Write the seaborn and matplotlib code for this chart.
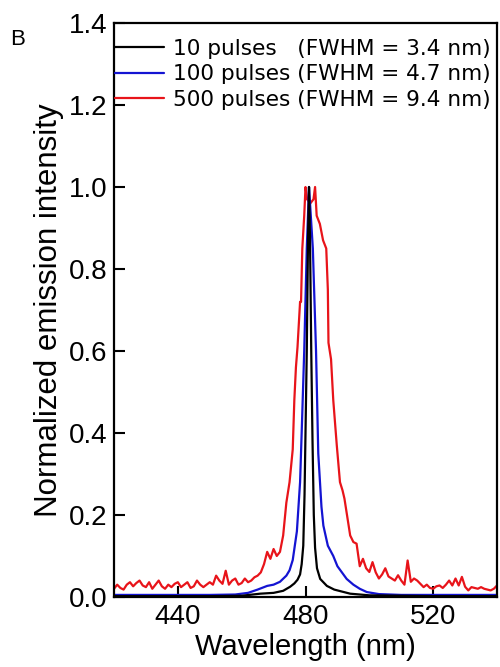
import matplotlib
matplotlib.use("Agg")
import matplotlib.pyplot as plt
import seaborn as sns
import pandas as pd

sns.set_theme(style="white")
plt.rcParams['font.family'] = ['Liberation Sans', 'DejaVu Sans']
for k in ['text.color', 'axes.labelcolor', 'xtick.color', 'ytick.color', 'axes.edgecolor']:
    plt.rcParams[k] = 'black'

series_labels = ["10 pulses   (FWHM = 3.4 nm)",
                 "100 pulses (FWHM = 4.7 nm)",
                 "500 pulses (FWHM = 9.4 nm)"]
colors = ["#000000", "#1414d2", "#e8141a"]

# 10 pulses (black)
wl_10 = [420, 430, 440, 450, 460, 465.8, 470, 473, 475.2, 476.5, 477.5, 478.3, 478.8, 479.3,
         479.7, 480.0, 480.4, 480.8, 481.1, 481.4, 481.8, 482.2, 482.6, 483.0, 483.6, 484.6,
         486.7, 489, 494, 500, 510, 520, 530, 540]
int_10 = [0.002, 0.002, 0.002, 0.002, 0.003, 0.008, 0.010, 0.015, 0.025, 0.033, 0.042, 0.055,
          0.080, 0.125, 0.25, 0.40, 0.60, 0.88, 1.00, 0.88, 0.60, 0.38, 0.20, 0.12, 0.07, 0.044,
          0.027, 0.018, 0.008, 0.004, 0.003, 0.002, 0.002, 0.002]

# 100 pulses (blue)
wl_100 = [420, 430, 440, 450, 458, 462, 465, 468, 470, 472, 474, 475, 476, 477.3, 478.3,
          478.8, 479.6, 480.4, 481.1, 482.3, 483.3, 484.0, 485.0, 485.6, 487.0, 488.7,
          490, 492.9, 495, 497, 499.2, 503, 510, 520, 530, 540]
int_100 = [0.005, 0.005, 0.005, 0.005, 0.006, 0.010, 0.018, 0.027, 0.030, 0.037, 0.052, 0.065,
           0.090, 0.160, 0.280, 0.40, 0.60, 0.85, 1.00, 0.85, 0.60, 0.35, 0.22, 0.174, 0.125,
           0.100, 0.075, 0.044, 0.030, 0.020, 0.012, 0.007, 0.005, 0.005, 0.005, 0.005]

# 500 pulses (red)
wl_500 = [420, 421, 422, 423, 424, 425, 426, 427, 428, 429, 430, 431, 432, 433, 434, 435,
          436, 437, 438, 439, 440, 441, 442, 443, 444, 445, 446, 447, 448, 449, 450, 451,
          452, 453, 454, 455, 456, 457, 458, 459, 460, 461, 462, 463, 464, 465, 466, 467,
          468, 469, 470, 471, 472, 473, 474, 475, 476, 476.5, 477, 477.5, 478, 478.3, 478.6,
          479, 479.6, 480, 480.5, 481.5, 482.5, 483, 483.5, 484.5, 485.5, 486.5, 487, 487.2,
          488, 488.7, 489.8, 490.8, 491.6, 492.2, 493, 494, 495, 496, 497, 498, 499, 500,
          501, 502, 503, 504, 505, 506, 507, 508, 509, 510, 511, 512, 513, 514, 515, 516,
          517, 518, 519, 520, 521, 522, 523, 524, 525, 526, 527, 528, 529, 530, 531, 532,
          533, 534, 535, 536, 537, 538, 539, 540]
int_500 = [0.020, 0.030, 0.022, 0.018, 0.030, 0.036, 0.026, 0.034, 0.040, 0.028, 0.024, 0.036,
           0.020, 0.030, 0.040, 0.026, 0.020, 0.030, 0.024, 0.032, 0.036, 0.024, 0.030, 0.036,
           0.022, 0.026, 0.040, 0.030, 0.024, 0.030, 0.036, 0.030, 0.052, 0.040, 0.032, 0.064,
           0.030, 0.040, 0.045, 0.030, 0.034, 0.045, 0.036, 0.040, 0.048, 0.052, 0.060, 0.080,
           0.110, 0.093, 0.117, 0.100, 0.110, 0.150, 0.230, 0.280, 0.360, 0.48, 0.56, 0.61,
           0.68, 0.72, 0.72, 0.85, 0.93, 1.00, 0.97, 0.96, 0.97, 1.00, 0.93, 0.91, 0.87, 0.85,
           0.75, 0.62, 0.58, 0.48, 0.37, 0.28, 0.26, 0.24, 0.20, 0.15, 0.134, 0.130, 0.075,
           0.093, 0.070, 0.061, 0.085, 0.060, 0.045, 0.055, 0.070, 0.050, 0.045, 0.040, 0.053,
           0.040, 0.030, 0.089, 0.037, 0.045, 0.040, 0.032, 0.024, 0.030, 0.022, 0.020, 0.026,
           0.028, 0.022, 0.030, 0.040, 0.028, 0.045, 0.028, 0.049, 0.025, 0.016, 0.024, 0.022,
           0.020, 0.024, 0.020, 0.018, 0.016, 0.020, 0.028]

frames = []
for lab, wl, it in zip(series_labels, [wl_10, wl_100, wl_500], [int_10, int_100, int_500]):
    frames.append(pd.DataFrame({"wl": wl, "intensity": it, "series": lab}))
df = pd.concat(frames, ignore_index=True)

fig = plt.figure(figsize=(5, 6.67), dpi=100)
ax = fig.add_axes([0.228, 0.105, 0.766, 0.8605])

draw_order = [series_labels[2], series_labels[1], series_labels[0]]
for lab in draw_order:
    sub = df[df["series"] == lab]
    sns.lineplot(data=sub, x="wl", y="intensity", ax=ax, color=colors[series_labels.index(lab)],
                 lw=1.6, sort=False, estimator=None, label=lab)

ax.set_xlim(420, 540)
ax.set_ylim(0, 1.4)
ax.set_xticks([440, 480, 520])
yt = [0.0, 0.2, 0.4, 0.6, 0.8, 1.0, 1.2, 1.4]
ax.set_yticks(yt)
ax.set_yticklabels([f"{v:.1f}" for v in yt])
ax.tick_params(axis="both", direction="in", length=8, width=1.5, colors="black",
               labelsize=20, pad=5, bottom=True, left=True)
for s in ax.spines.values():
    s.set_color("black")
    s.set_linewidth(1.6)

ax.set_xlabel("Wavelength (nm)", fontsize=21, labelpad=2, color="black")
ax.set_ylabel("Normalized emission intensity", fontsize=22.5, labelpad=3, color="black")

handles, labels = ax.get_legend_handles_labels()
hmap = dict(zip(labels, handles))
leg = ax.legend([hmap[l] for l in series_labels], series_labels, loc="upper left",
                frameon=False, prop={"family": "DejaVu Sans", "size": 15.6},
                handlelength=2.25, handletextpad=0.42,
                labelspacing=0.25, borderpad=0.0, borderaxespad=0.0,
                bbox_to_anchor=(0.002, 0.972))
for t in leg.get_texts():
    t.set_color("black")

fig.text(0.02, 0.932, "B", fontsize=16, color="black")

fig.savefig("out.png", dpi=100)
